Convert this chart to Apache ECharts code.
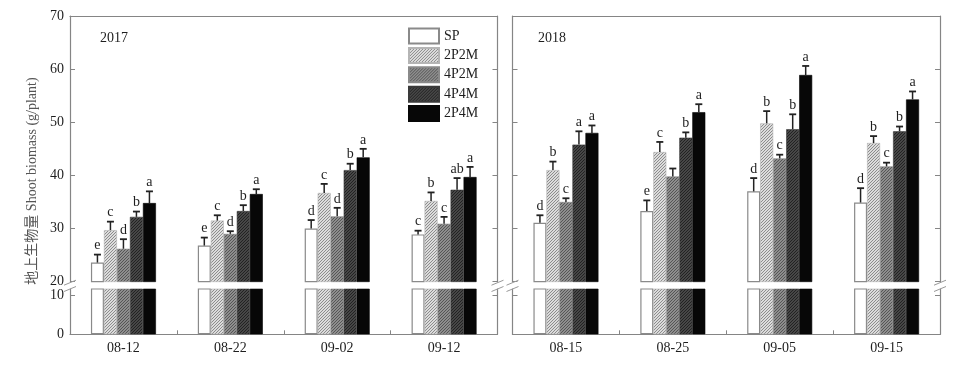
<!DOCTYPE html>
<html>
<head>
<meta charset="utf-8">
<script src="https://cdn.jsdelivr.net/npm/echarts@6/dist/echarts.min.js"></script>
<style>html,body{margin:0;padding:0;background:#fff;}#c{width:957px;height:367px;}</style>
</head>
<body>
<div id="c"></div>
<script>
// ---------- data ----------
const treatments = ['SP', '2P2M', '4P2M', '4P4M', '2P4M'];
const dates2017 = ['08-12', '08-22', '09-02', '09-12'];
const dates2018 = ['08-15', '08-25', '09-05', '09-15'];

const sp2017   = [23.6, 26.8, 30.0, 28.9];
const p2m2_2017 = [29.7, 31.5, 36.7, 35.2];
const p4m2_2017 = [26.2, 29.0, 32.3, 30.9];
const p4m4_2017 = [32.2, 33.3, 41.0, 37.3];
const p2m4_2017 = [34.8, 36.5, 43.4, 39.7];

const spErr2017   = [1.5, 1.5, 1.6, 0.7];
const p2m2Err2017 = [1.6, 1.0, 1.7, 1.6];
const p4m2Err2017 = [1.8, 0.5, 1.6, 1.3];
const p4m4Err2017 = [1.0, 1.1, 1.2, 2.2];
const p2m4Err2017 = [2.2, 0.9, 1.6, 1.9];

const sp2018   = [31.1, 33.3, 37.0, 34.9];
const p2m2_2018 = [41.0, 44.4, 49.8, 46.1];
const p4m2_2018 = [35.0, 39.8, 43.2, 41.7];
const p4m4_2018 = [45.8, 47.1, 48.7, 48.3];
const p2m4_2018 = [48.0, 51.9, 58.9, 54.3];

const spErr2018   = [1.4, 2.0, 2.5, 2.7];
const p2m2Err2018 = [1.6, 1.9, 2.3, 1.3];
const p4m2Err2018 = [0.7, 1.5, 0.7, 0.7];
const p4m4Err2018 = [2.5, 1.0, 2.8, 0.9];
const p2m4Err2018 = [1.4, 1.5, 1.7, 1.5];

const letters2017 = [['e','e','d','c'], ['c','c','c','b'], ['d','d','d','c'], ['b','b','b','ab'], ['a','a','a','a']];
const letters2018 = [['d','e','d','d'], ['b','c','b','b'], ['c','','c','c'], ['a','b','b','b'], ['a','a','a','a']];

const upperTicks = [20, 30, 40, 50, 60, 70];
const lowerTicks = [0, 10];
const yearLabels = ['2017', '2018'];
const yTitle = '地上生物量 Shoot biomass (g/plant)';

// ---------- styling / layout ----------
const FONT = "'Liberation Serif','Times New Roman','Noto Sans CJK SC',serif";
const AX = '#858585';
const TXT = '#1e1e1e';
const BW = 13;
const L = [70, 512.5], W = 427.5;
const UT = 16, UH = 265.7, LT = 289, LH = 45.3;
const LOWMAX = 11.55;

function hatch(bg, fg) {
  const s = 3;
  const c = document.createElement('canvas');
  c.width = s; c.height = s;
  const g = c.getContext('2d');
  g.fillStyle = bg; g.fillRect(0, 0, s, s);
  g.fillStyle = fg;
  for (let i = 0; i < s; i++) g.fillRect(i, s - 1 - i, 1, 1);
  return { image: c, repeat: 'repeat' };
}
const fills = [
  '#ffffff',
  hatch('#dcdcdc', '#8c8c8c'),
  hatch('#8e8e8e', '#555555'),
  hatch('#474747', '#222222'),
  '#070707'
];
const borders = ['#8a8a8a', '#b5b5b5', '#8a8a8a', '#3a3a3a', '#070707'];

const panels = [
  { cats: dates2017, vals: [sp2017, p2m2_2017, p4m2_2017, p4m4_2017, p2m4_2017],
    errs: [spErr2017, p2m2Err2017, p4m2Err2017, p4m4Err2017, p2m4Err2017], letters: letters2017 },
  { cats: dates2018, vals: [sp2018, p2m2_2018, p4m2_2018, p4m4_2018, p2m4_2018],
    errs: [spErr2018, p2m2Err2018, p4m2Err2018, p4m4Err2018, p2m4Err2018], letters: letters2018 }
];

const grids = [], xAxes = [], yAxes = [], series = [];
panels.forEach((pn, p) => {
  const gU = p * 2, gL = p * 2 + 1;
  grids.push({ left: L[p], top: UT, width: W, height: UH });
  grids.push({ left: L[p], top: LT, width: W, height: LH });
  xAxes.push({ type: 'category', gridIndex: gU, data: pn.cats, position: 'top',
    axisLine: { show: true, lineStyle: { color: AX, width: 1.2 } },
    axisTick: { show: false }, axisLabel: { show: false }, splitLine: { show: false } });
  xAxes.push({ type: 'category', gridIndex: gL, data: pn.cats, position: 'bottom',
    axisLine: { show: true, lineStyle: { color: AX, width: 1.2 } },
    axisTick: { show: true, inside: true, length: 4, lineStyle: { color: AX } },
    axisLabel: { color: TXT, fontSize: 14, fontFamily: FONT, margin: 7 },
    splitLine: { show: false } });
  [0, 1].forEach(side => {
    yAxes.push({ type: 'value', gridIndex: gU, min: 20, max: 70, interval: 10,
      position: side ? 'right' : 'left',
      axisLine: { show: true, lineStyle: { color: AX, width: 1.2 } },
      axisTick: { show: true, inside: true, length: 5, lineStyle: { color: AX } },
      axisLabel: { show: p === 0 && side === 0, color: TXT, fontSize: 14, fontFamily: FONT, margin: 6,
        customValues: upperTicks },
      splitLine: { show: false } });
  });
  [0, 1].forEach(side => {
    yAxes.push({ type: 'value', gridIndex: gL, min: 0, max: LOWMAX,
      position: side ? 'right' : 'left',
      axisLine: { show: true, lineStyle: { color: AX, width: 1.2 } },
      axisTick: { show: true, inside: true, length: 5, lineStyle: { color: AX }, customValues: lowerTicks },
      axisLabel: { show: p === 0 && side === 0, color: TXT, fontSize: 14, fontFamily: FONT, margin: 6,
        customValues: lowerTicks },
      splitLine: { show: false } });
  });

  treatments.forEach((t, s) => {
    const style = { color: fills[s], borderColor: borders[s], borderWidth: s === 0 ? 1.2 : 0.6 };
    series.push({ type: 'bar', name: t, xAxisIndex: gU, yAxisIndex: gU * 2, data: pn.vals[s],
      barWidth: BW, barGap: '0%', clip: true, itemStyle: style, silent: true });
    series.push({ type: 'bar', name: t, xAxisIndex: gL, yAxisIndex: gL * 2, data: pn.vals[s],
      barWidth: BW, barGap: '0%', clip: true, itemStyle: style, silent: true });
  });

  const ed = [], lt = [];
  treatments.forEach((t, s) => {
    pn.vals[s].forEach((v, ci) => { ed.push([ci, v, pn.errs[s][ci], s]); lt.push(pn.letters[s][ci]); });
  });
  series.push({
    type: 'custom', name: 'err' + p, xAxisIndex: gU, yAxisIndex: gU * 2, data: ed, z: 10, silent: true,
    clip: false,
    renderItem: function (params, api) {
      const ci = api.value(0), v = api.value(1), sd = api.value(2), s = api.value(3);
      const base = api.coord([ci, v]);
      const x = base[0] + (s - 2) * BW;
      const yTop = api.coord([ci, v + sd])[1];
      return {
        type: 'group',
        children: [
          { type: 'line', shape: { x1: x, y1: base[1], x2: x, y2: yTop }, style: { stroke: '#222', lineWidth: 1.5 } },
          { type: 'line', shape: { x1: x - 3.5, y1: yTop, x2: x + 3.5, y2: yTop }, style: { stroke: '#222', lineWidth: 1.8 } },
          { type: 'text', x: x, y: yTop - 2, style: { text: lt[params.dataIndex], fill: TXT, font: '14px ' + FONT,
            align: 'center', verticalAlign: 'bottom' } }
        ]
      };
    }
  });
});

const breakX = [L[0], L[0] + W, L[1], L[1] + W];
const gfx = [];
breakX.forEach(x => {
  [UT + UH + 1, LT].forEach(y => {
    gfx.push({ type: 'line', shape: { x1: x - 6, y1: y + 2.5, x2: x + 6, y2: y - 2.5 },
      style: { stroke: '#999', lineWidth: 1 }, z: 20 });
  });
});
gfx.push({ type: 'text', x: 100, y: 38, style: { text: yearLabels[0], fill: TXT, font: '14px ' + FONT, verticalAlign: 'middle' } });
gfx.push({ type: 'text', x: 538, y: 38, style: { text: yearLabels[1], fill: TXT, font: '14px ' + FONT, verticalAlign: 'middle' } });
gfx.push({ type: 'text', x: 32, y: 181, rotation: Math.PI / 2,
  style: { text: yTitle, fill: '#555', font: '14px ' + FONT, align: 'center', verticalAlign: 'middle' } });

const chart = echarts.init(document.getElementById('c'), null, { renderer: 'canvas' });
chart.setOption({
  animation: false,
  backgroundColor: '#fff',
  grid: grids,
  xAxis: xAxes,
  yAxis: yAxes,
  legend: {
    data: treatments, orient: 'vertical', left: 408, top: 27.5, itemWidth: 30, itemHeight: 15, itemGap: 2.4,
    padding: 0, selectedMode: false, icon: 'rect',
    textStyle: { color: TXT, fontSize: 14, fontFamily: FONT }
  },
  series: series,
  graphic: gfx
});
</script>
</body>
</html>
